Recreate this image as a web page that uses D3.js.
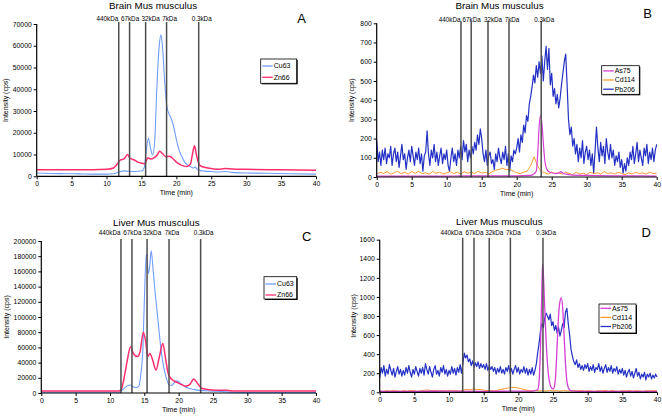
<!DOCTYPE html>
<html>
<head>
<meta charset="utf-8">
<script src="https://cdn.jsdelivr.net/npm/d3@7"></script>
<style>
  body { margin: 0; background: #fff; }
  svg { font-family: "Liberation Sans", Arial, sans-serif; }
</style>
</head>
<body>
<div id="chart"></div>
<script>
// ---- data ----
const timeTicks = [0, 5, 10, 15, 20, 25, 30, 35, 40]
const markerLabels = ["440kDa", "67kDa", "32kDa", "7kDa", "0.3kDa"]

// panel A  (brain, Cu / Zn)
const aCuTime = [0,2,4,6,8,10,11,11.8,12.5,13.2,14,15,15.4,15.7,16.0,16.3,16.6,16.9,17.2,17.5,17.8,18.0,18.3,18.6,18.9,19.2,19.6,20.0,20.4,20.8,21.2,21.6,22.0,22.4,22.7,23.0,23.5,24,25,26,27,28,30,33,36,40]
const aCu63 = [1500,1300,1200,1100,1000,1000,1200,2000,2500,2300,2200,2400,4000,12000,17500,13000,9800,16000,40000,58000,65000,60000,45000,33000,29000,27000,23000,17000,12000,9000,6500,5200,4500,3800,4200,3200,2600,2400,2200,2000,2200,1800,1500,1400,1200,1000]
const aZnTime = [0,4,8,10,11,11.5,12,12.5,13.0,13.4,14,14.5,15,15.5,15.9,16.3,16.8,17.3,17.6,18.0,18.5,19.0,19.5,20,20.5,21,21.5,22,22.3,22.6,22.9,23.2,23.6,24,25,26,27,28,30,35,40]
const aZn66 = [3000,3000,3000,3200,3800,5500,7500,8000,10000,8200,7500,6500,6000,5800,8500,8000,8500,10000,11500,10500,9000,9200,8200,6500,5500,4800,4500,5500,10000,14000,9500,6000,4500,4200,3600,3200,3600,3400,3200,3000,2800]
const aMarkers = [11.75, 13.3, 15.6, 18.6, 23.2]

// panel B  (brain, As / Cd / Pb)
const bAsTime = [0,5,10,15,20,22,22.8,23.0,23.2,23.4,23.6,23.8,24.0,24.2,24.5,25,25.5,26,26.3,26.6,27,28,30,35,40]
const bAs75 = [5,5,5,6,6,8,30,120,260,320,280,180,90,50,30,22,18,20,28,20,15,10,8,6,5]
const cdStep = 0.5
const bCd114 = [15,25,18,28,15,22,30,18,25,15,28,20,30,18,22,15,28,20,25,15,
  22,28,18,25,15,28,20,25,18,30,20,25,15,28,35,40,45,38,42,30,
  22,18,25,30,60,105,55,30,22,15,25,18,22,15,25,18,12,25,15,20,
  12,25,18,22,15,28,18,22,15,25,18,12,22,15,25,18,22,15,25,18,20]
const pbStep = 0.2
const bPb206 = [190,80,130,60,140,90,150,70,120,100,
  160,60,120,150,80,130,50,110,170,90,
  120,40,100,140,80,160,110,60,130,90,
  150,70,120,30,110,130,240,120,60,140,
  100,170,80,130,60,110,150,70,120,90,
  140,60,30,100,150,80,120,60,140,100,
  160,90,190,130,170,80,140,100,160,120,
  180,140,220,170,250,200,120,80,140,60,
  110,130,70,90,40,120,80,150,100,70,
  130,90,160,60,120,30,110,80,140,120,
  150,200,130,220,180,270,230,320,290,380,
  420,470,530,490,580,520,600,540,630,500,
  600,680,560,670,480,540,420,460,380,430,
  360,410,480,540,600,640,480,300,220,260,
  160,200,120,170,80,150,100,190,70,130,
  160,90,140,60,120,20,140,260,150,80,
  180,110,160,70,200,130,90,170,100,140,
  60,110,80,130,50,90,20,70,30,100,
  60,130,90,160,70,120,180,80,140,100,
  60,150,110,170,70,130,90,150,80,140,
  170]
const bMarkers = [12.04, 13.5, 15.9, 18.9, 23.5]

// panel C  (liver, Cu / Zn)
const cCuTime = [0,5,10,11.3,11.8,12.3,12.9,13.4,13.8,14.2,14.5,14.8,15.0,15.3,15.6,15.8,16.0,16.3,16.6,17.0,17.4,17.8,18.2,18.6,19.0,19.6,20.0,20.5,21,22,23,24,25,26,27,28,30,40]
const cCu63 = [1000,1000,1000,1000,4000,8000,10500,8000,7000,9000,25000,60000,120000,183000,157000,168000,187000,160000,130000,95000,60000,35000,20000,11000,10000,16000,15000,11000,8000,5000,3500,3000,2500,2000,1500,800,500,500]
const cZnTime = [0,5,10,11.3,11.7,12.1,12.5,13.0,13.4,14,14.4,14.85,15.2,15.5,15.8,16.2,16.7,17.2,17.7,18.1,18.5,19,20,21,21.6,22.2,22.8,23.4,24,25,26,27,28,30,40]
const cZn66 = [2500,2500,2500,2500,6000,22000,42000,61000,52000,48000,55000,80000,68000,48000,52000,44000,30000,48000,65000,45000,25000,18000,13000,9000,11000,18500,12000,6000,5000,4000,3500,3500,2500,2500,2500]
const cMarkers = [11.6, 13.2, 15.4, 18.6, 23.2]

// panel D  (liver, As / Cd / Pb)
const dAsTime = [0,5,10,15,20,22,22.8,23.0,23.2,23.4,23.5,23.6,23.8,24.0,24.2,24.4,24.6,24.8,25.0,25.2,25.4,25.6,25.8,26.0,26.2,26.4,26.6,26.8,27.0,27.2,27.5,28,30,35,40]
const dAs75 = [10,10,12,10,12,12,30,120,500,1100,1350,1250,900,550,300,150,80,45,35,60,200,500,800,950,990,880,600,300,120,50,20,12,10,10,10]
const dCd114 = [15,10,18,12,20,14,10,18,12,20,15,10,18,22,25,15,20,12,18,14,
  20,15,18,12,22,30,25,35,28,30,22,18,20,15,22,30,38,45,50,52,
  45,35,25,18,15,20,15,18,12,20,15,18,12,20,15,12,18,14,20,12,
  18,15,10,18,14,20,12,18,15,10,18,14,20,12,18,15,10,18,14,20,15]
const dPb206 = [150,260,200,280,170,240,190,290,230,180,
  250,160,220,270,190,240,170,230,180,260,
  200,280,210,160,240,190,270,220,170,250,
  200,260,180,300,240,190,270,210,160,240,
  280,190,230,170,260,210,280,190,240,170,
  230,190,270,200,250,180,260,210,290,200,
  300,410,360,390,320,350,280,330,260,310,
  270,320,250,300,260,290,240,300,230,280,
  240,270,220,260,190,250,210,270,200,240,
  190,260,220,280,200,250,190,240,280,210,
  260,190,240,210,270,200,250,180,240,190,
  260,180,230,300,420,520,650,720,680,780,
  830,800,760,820,700,740,650,700,620,680,
  590,650,720,680,840,880,720,600,450,380,
  320,290,340,260,300,240,280,230,290,250,
  300,220,270,230,290,210,260,240,300,220,
  270,200,250,290,210,260,220,280,200,250,
  220,270,190,240,200,250,180,230,160,210,
  240,170,220,150,200,250,170,210,140,190,
  160,210,130,190,160,200,140,180,150,190,
  160]
const dMarkers = [11.97, 13.6, 15.8, 18.85, 23.55]

// ---- helpers ----
function pairs(times, values) {
  return values.map((v, i) => ({ t: times[i], v: v }))
}
function stepped(values, step) {
  return values.map((v, i) => ({ t: i * step, v: v }))
}

const colors = { Cu63: "#6f9cff", Zn66: "#ff2f6e", As75: "#d63fd6", Cd114: "#ff9a2e", Pb206: "#2431c4" }

const panels = [
  { title: "Brain Mus musculus", letter: "A", titleX: 153, titleY: 9, letterX: 301.7, letterY: 22.7,
    left: 36.7, right: 316, top: 24, bottom: 176.3, yMax: 70000, yStep: 10000, yLabX: 5,
    markers: aMarkers, labelY: 21.3,
    series: [
      { name: "Cu63", data: pairs(aCuTime, aCu63), w: 1.1, curve: d3.curveMonotoneX },
      { name: "Zn66", data: pairs(aZnTime, aZn66), w: 1.5, curve: d3.curveMonotoneX }],
    legend: { x: 260.7, y: 59, w: 36, h: 24.3, rows: [66, 77.3] } },
  { title: "Brain Mus musculus", letter: "B", titleX: 499.5, titleY: 9, letterX: 647.7, letterY: 18.3,
    left: 376.7, right: 656.7, top: 23.3, bottom: 177, yMax: 800, yStep: 100, yLabX: 351,
    markers: bMarkers, labelY: 21.7,
    series: [
      { name: "Pb206", data: stepped(bPb206, pbStep), w: 1.2, curve: d3.curveLinear },
      { name: "Cd114", data: stepped(bCd114, cdStep), w: 1, curve: d3.curveLinear },
      { name: "As75", data: pairs(bAsTime, bAs75), w: 1.2, curve: d3.curveMonotoneX }],
    legendOrder: ["As75", "Cd114", "Pb206"],
    legend: { x: 601.7, y: 65.7, w: 37.6, h: 28.6, rows: [70.9, 80, 89.2] } },
  { title: "Liver Mus musculus", letter: "C", titleX: 156.3, titleY: 225.7, letterX: 306.7, letterY: 240.7,
    left: 41.3, right: 316, top: 241, bottom: 393, yMax: 200000, yStep: 20000, yLabX: 6,
    markers: cMarkers, labelY: 235,
    series: [
      { name: "Cu63", data: pairs(cCuTime, cCu63), w: 1.1, curve: d3.curveMonotoneX },
      { name: "Zn66", data: pairs(cZnTime, cZn66), w: 1.5, curve: d3.curveMonotoneX }],
    legend: { x: 264, y: 276.7, w: 32.7, h: 22.3, rows: [284, 295] } },
  { title: "Liver Mus musculus", letter: "D", titleX: 499.3, titleY: 225, letterX: 646.3, letterY: 237.3,
    left: 379.7, right: 657, top: 239.7, bottom: 392.3, yMax: 1600, yStep: 200, yLabX: 353.7,
    markers: dMarkers, labelY: 235,
    series: [
      { name: "Pb206", data: stepped(dPb206, pbStep), w: 1.2, curve: d3.curveLinear },
      { name: "Cd114", data: stepped(dCd114, cdStep), w: 1, curve: d3.curveLinear },
      { name: "As75", data: pairs(dAsTime, dAs75), w: 1.3, curve: d3.curveMonotoneX }],
    legendOrder: ["As75", "Cd114", "Pb206"],
    legend: { x: 599, y: 304, w: 37, h: 29, rows: [308.3, 317.4, 326.5] } }
]

// label placement relative to each marker line (px)
const labelOffset = [-0.5, 0.5, 5, 3, 3]

const svg = d3.select("#chart").append("svg").attr("width", 662).attr("height", 418)

panels.forEach(p => drawPanel(svg, p))

function drawPanel(svg, p) {
  const x = d3.scaleLinear().domain([0, 40]).range([p.left, p.right])
  const y = d3.scaleLinear().domain([0, p.yMax]).range([p.bottom, p.top])
  const g = svg.append("g")

  // series
  p.series.forEach(s => {
    const line = d3.line().x(d => x(d.t)).y(d => y(d.v)).curve(s.curve)
    g.append("path").datum(s.data).attr("d", line).attr("fill", "none")
      .attr("stroke", colors[s.name]).attr("stroke-width", s.w).attr("stroke-linejoin", "round")
  })

  // marker lines
  g.selectAll(".marker").data(p.markers).enter().append("line")
    .attr("x1", d => x(d)).attr("x2", d => x(d))
    .attr("y1", p.top - 2).attr("y2", p.bottom)
    .attr("stroke", "#4d4d4d").attr("stroke-width", 1.5)

  g.selectAll(".mlabel").data(p.markers).enter().append("text")
    .attr("x", (d, i) => x(d) + labelOffset[i]).attr("y", p.labelY)
    .attr("text-anchor", (d, i) => i === 0 ? "end" : "middle")
    .attr("font-size", "6.3px").attr("fill", "#000")
    .text((d, i) => markerLabels[i])

  // axes
  const yTicks = d3.range(0, p.yMax + 1, p.yStep)
  const yAxis = d3.axisLeft(y).tickValues(yTicks).tickSize(3).tickPadding(2).tickFormat(d3.format("d"))
  const ya = g.append("g").attr("transform", `translate(${p.left},0)`).call(yAxis)
  const xAxis = d3.axisBottom(x).tickValues(timeTicks).tickSize(3).tickPadding(2)
  const xa = g.append("g").attr("transform", `translate(0,${p.bottom})`).call(xAxis)
  ;[ya, xa].forEach(a => {
    a.select(".domain").attr("stroke", "#000").attr("stroke-width", 1.2)
    a.selectAll(".tick line").attr("stroke", "#000")
    a.selectAll("text").attr("font-size", "6.8px").attr("font-family", "Liberation Sans, Arial, sans-serif").attr("fill", "#000")
  })
  xa.select(".domain").attr("d", `M${p.left},0H${p.right}`)
  ya.select(".domain").attr("d", `M0,${p.bottom}V${p.top}`)

  g.append("text").attr("x", (p.left + p.right) / 2).attr("y", p.bottom + 19)
    .attr("text-anchor", "middle").attr("font-size", "7px").text("Time (min)")
  g.append("text").attr("transform", `translate(${p.yLabX + 2.5},${(p.top + p.bottom) / 2}) rotate(-90)`)
    .attr("text-anchor", "middle").attr("font-size", "7px").text("Intensity (cps)")

  // title and letter
  g.append("text").attr("x", p.titleX).attr("y", p.titleY).attr("text-anchor", "middle")
    .attr("font-size", "9.8px").text(p.title)
  g.append("text").attr("x", p.letterX).attr("y", p.letterY).attr("text-anchor", "middle")
    .attr("font-size", "13px").text(p.letter)

  // legend
  const L = p.legend
  const names = p.legendOrder || p.series.map(s => s.name)
  g.append("rect").attr("x", L.x + 1).attr("y", L.y + 1).attr("width", L.w).attr("height", L.h).attr("fill", "#000")
  g.append("rect").attr("x", L.x).attr("y", L.y).attr("width", L.w).attr("height", L.h)
    .attr("fill", "#fff").attr("stroke", "#000").attr("stroke-width", 0.8)
  names.forEach((n, i) => {
    g.append("line").attr("x1", L.x + 1.5).attr("x2", L.x + 12).attr("y1", L.rows[i]).attr("y2", L.rows[i])
      .attr("stroke", colors[n]).attr("stroke-width", 1.3)
    g.append("text").attr("x", L.x + 13).attr("y", L.rows[i] + 2.4).attr("font-size", "7px").text(n)
  })
}
</script>
</body>
</html>
